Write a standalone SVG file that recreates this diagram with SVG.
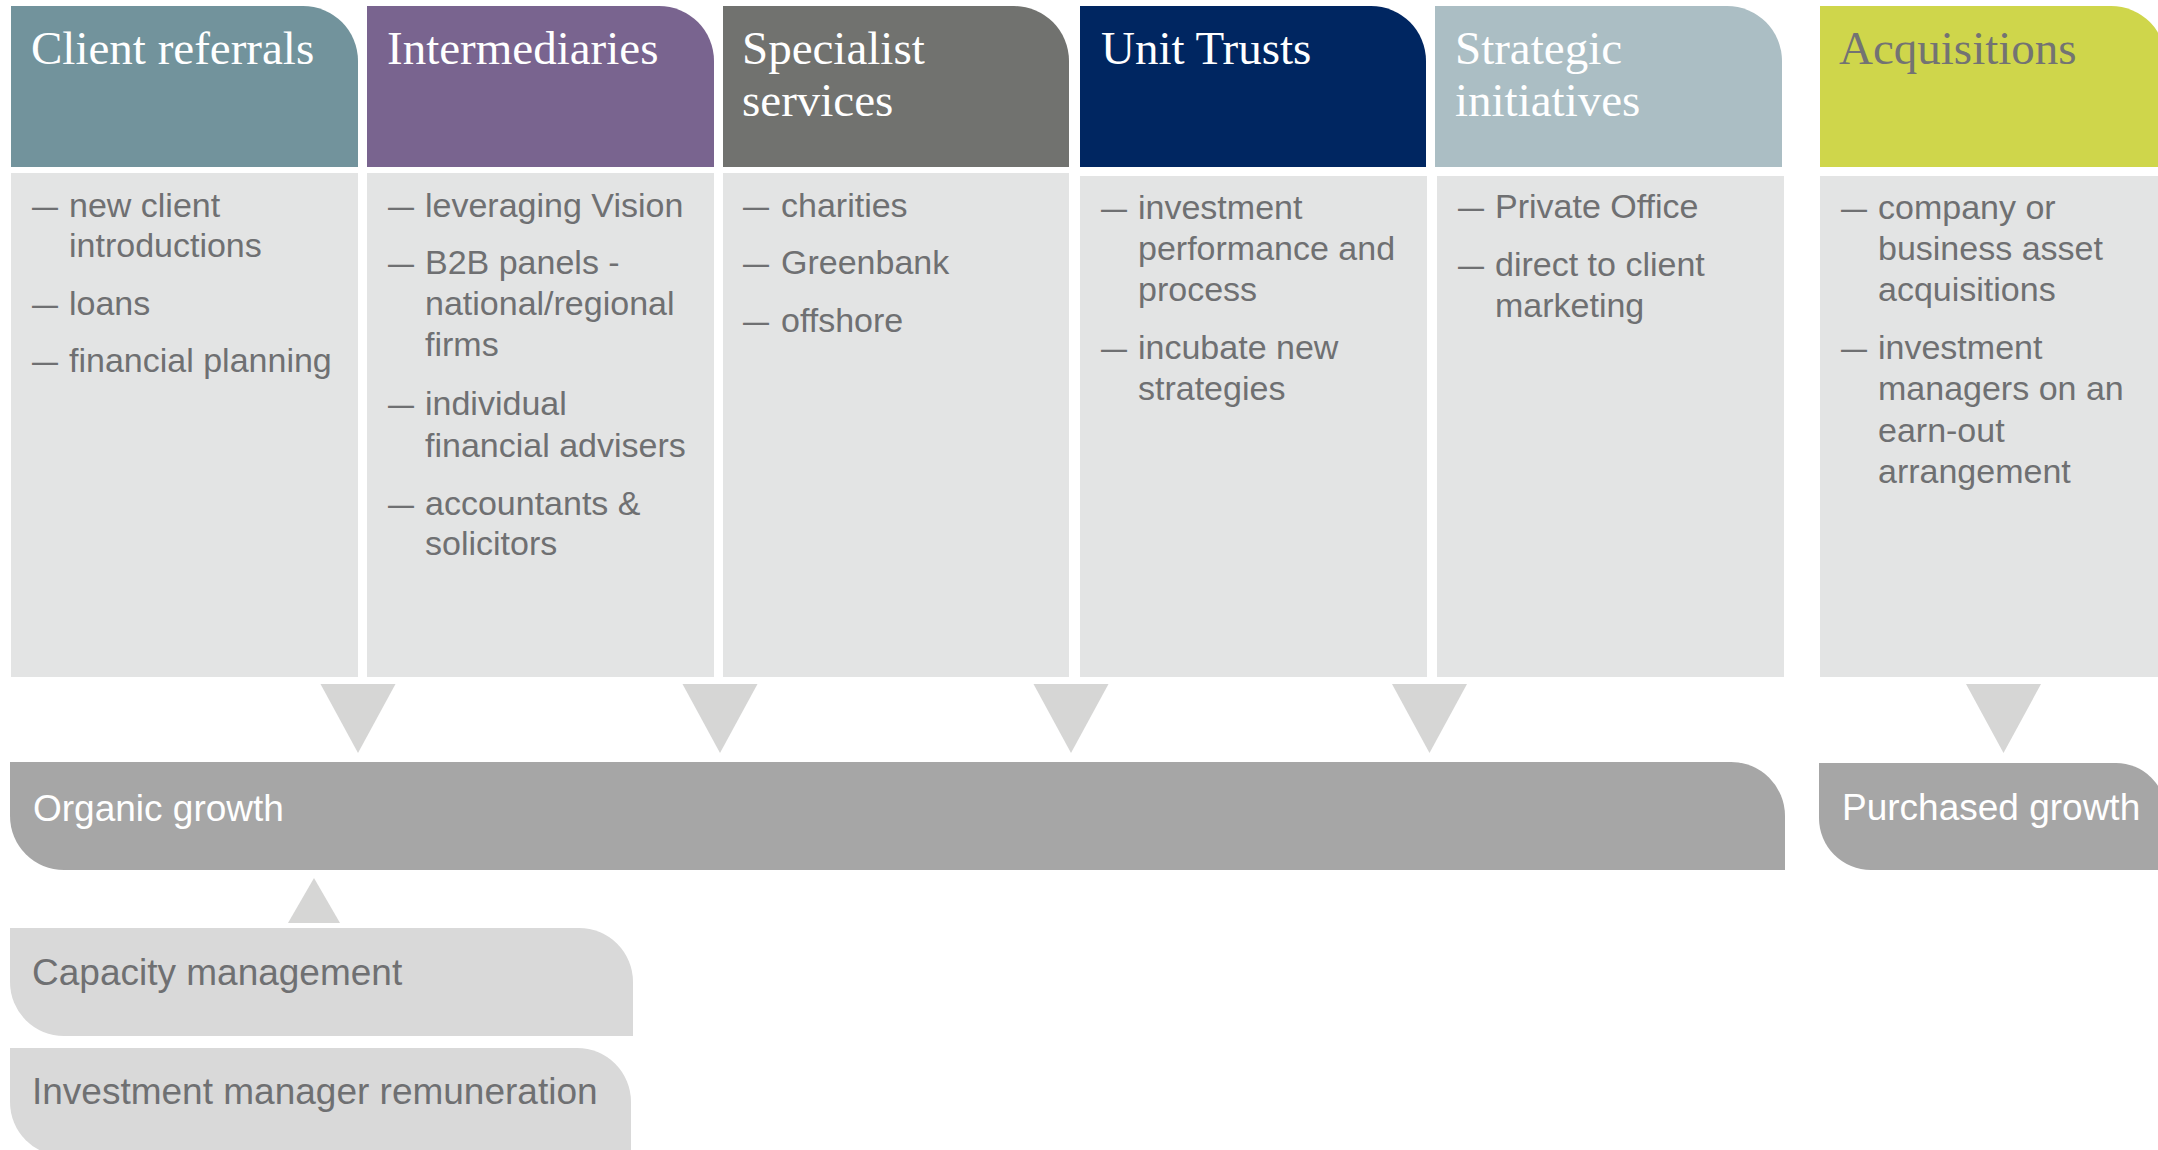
<svg xmlns="http://www.w3.org/2000/svg" width="2158" height="1150" viewBox="0 0 2158 1150">
<style>
.h{font-family:"Liberation Serif","Times New Roman",serif;font-size:47px;fill:#ffffff}
.b{font-family:"Liberation Sans",Arial,sans-serif;font-size:34px;fill:#6f7072}
.d{font-family:"Liberation Sans",Arial,sans-serif;font-size:34px;fill:#6f7072}
.panel{fill:#e3e4e4}
.tri{fill:#d6d6d5}
.bar{fill:#a6a6a6}
.bt{font-family:"Liberation Sans",Arial,sans-serif;font-size:37px;fill:#ffffff}
.lt{font-family:"Liberation Sans",Arial,sans-serif;font-size:37px;fill:#6f7072}
.lbox{fill:#d9d9d9}
</style>
<rect width="2158" height="1150" fill="#ffffff"/>

<g id="client-referrals">
<path d="M11,6 H303 A55 55 0 0 1 358,61 V167 H11 Z" fill="#72939c"/>
<rect class="panel" x="11" y="173" width="347" height="504"/>
<text class="h" x="31" y="64">Client referrals</text>
<text class="d" x="32" y="217" textLength="26" lengthAdjust="spacingAndGlyphs">—</text>
<text class="b" x="69" y="217">new client</text>
<text class="b" x="69" y="257">introductions</text>
<text class="d" x="32" y="315" textLength="26" lengthAdjust="spacingAndGlyphs">—</text>
<text class="b" x="69" y="315">loans</text>
<text class="d" x="32" y="372" textLength="26" lengthAdjust="spacingAndGlyphs">—</text>
<text class="b" x="69" y="372">financial planning</text>
</g>

<g id="intermediaries">
<path d="M367,6 H659 A55 55 0 0 1 714,61 V167 H367 Z" fill="#79648f"/>
<rect class="panel" x="367" y="173" width="347" height="504"/>
<text class="h" x="387" y="64">Intermediaries</text>
<text class="d" x="388" y="217" textLength="26" lengthAdjust="spacingAndGlyphs">—</text>
<text class="b" x="425" y="217">leveraging Vision</text>
<text class="d" x="388" y="274" textLength="26" lengthAdjust="spacingAndGlyphs">—</text>
<text class="b" x="425" y="274">B2B panels -</text>
<text class="b" x="425" y="315">national/regional</text>
<text class="b" x="425" y="356">firms</text>
<text class="d" x="388" y="415" textLength="26" lengthAdjust="spacingAndGlyphs">—</text>
<text class="b" x="425" y="415">individual</text>
<text class="b" x="425" y="457">financial advisers</text>
<text class="d" x="388" y="515" textLength="26" lengthAdjust="spacingAndGlyphs">—</text>
<text class="b" x="425" y="515">accountants &amp;</text>
<text class="b" x="425" y="555">solicitors</text>
</g>

<g id="specialist-services">
<path d="M723,6 H1014 A55 55 0 0 1 1069,61 V167 H723 Z" fill="#71726f"/>
<rect class="panel" x="723" y="173" width="346" height="504"/>
<text class="h" x="742" y="64">Specialist</text>
<text class="h" x="742" y="116">services</text>
<text class="d" x="743" y="217" textLength="26" lengthAdjust="spacingAndGlyphs">—</text>
<text class="b" x="781" y="217">charities</text>
<text class="d" x="743" y="274" textLength="26" lengthAdjust="spacingAndGlyphs">—</text>
<text class="b" x="781" y="274">Greenbank</text>
<text class="d" x="743" y="332" textLength="26" lengthAdjust="spacingAndGlyphs">—</text>
<text class="b" x="781" y="332">offshore</text>
</g>

<g id="unit-trusts">
<path d="M1080,6 H1371 A55 55 0 0 1 1426,61 V167 H1080 Z" fill="#002661"/>
<rect class="panel" x="1080" y="176" width="347" height="501"/>
<text class="h" x="1101" y="64">Unit Trusts</text>
<text class="d" x="1101" y="219" textLength="26" lengthAdjust="spacingAndGlyphs">—</text>
<text class="b" x="1138" y="219">investment</text>
<text class="b" x="1138" y="260">performance and</text>
<text class="b" x="1138" y="301">process</text>
<text class="d" x="1101" y="359" textLength="26" lengthAdjust="spacingAndGlyphs">—</text>
<text class="b" x="1138" y="359">incubate new</text>
<text class="b" x="1138" y="400">strategies</text>
</g>

<g id="strategic-initiatives">
<path d="M1435,6 H1727 A55 55 0 0 1 1782,61 V167 H1435 Z" fill="#abbec4"/>
<rect class="panel" x="1437" y="176" width="347" height="501"/>
<text class="h" x="1455" y="64">Strategic</text>
<text class="h" x="1455" y="116">initiatives</text>
<text class="d" x="1458" y="218" textLength="26" lengthAdjust="spacingAndGlyphs">—</text>
<text class="b" x="1495" y="218">Private Office</text>
<text class="d" x="1458" y="276" textLength="26" lengthAdjust="spacingAndGlyphs">—</text>
<text class="b" x="1495" y="276">direct to client</text>
<text class="b" x="1495" y="317">marketing</text>
</g>

<g id="acquisitions">
<path d="M1820,6 H2111 A55 55 0 0 1 2166,61 V167 H1820 Z" fill="#cfd64b"/>
<rect class="panel" x="1820" y="176" width="346" height="501"/>
<text class="h" x="1839" y="64" style="fill:#737373">Acquisitions</text>
<text class="d" x="1841" y="219" textLength="26" lengthAdjust="spacingAndGlyphs">—</text>
<text class="b" x="1878" y="219">company or</text>
<text class="b" x="1878" y="260">business asset</text>
<text class="b" x="1878" y="301">acquisitions</text>
<text class="d" x="1841" y="359" textLength="26" lengthAdjust="spacingAndGlyphs">—</text>
<text class="b" x="1878" y="359">investment</text>
<text class="b" x="1878" y="400">managers on an</text>
<text class="b" x="1878" y="442">earn-out</text>
<text class="b" x="1878" y="483">arrangement</text>
</g>

<g id="connectors">
<polygon class="tri" points="320.5,684 395.5,684 358,753"/>
<polygon class="tri" points="682.5,684 757.5,684 720,753"/>
<polygon class="tri" points="1033.5,684 1108.5,684 1071,753"/>
<polygon class="tri" points="1392,684 1467,684 1429.5,753"/>
<polygon class="tri" points="1966,684 2041,684 2003.5,753"/>
<polygon class="tri" points="288,923 340,923 314,878"/>
</g>

<g id="organic-growth">
<path class="bar" d="M10,762 H1731 A54 54 0 0 1 1785,816 V870 H64 A54 54 0 0 1 10,816 Z"/>
<text class="bt" x="33" y="821">Organic growth</text>
</g>

<g id="purchased-growth">
<path class="bar" d="M1819,763 H2116 A50 50 0 0 1 2166,813 V870 H1871 A52 52 0 0 1 1819,818 Z"/>
<text class="bt" x="1842" y="820">Purchased growth</text>
</g>

<g id="capacity-management">
<path class="lbox" d="M10,928 H579 A54 54 0 0 1 633,982 V1036 H64 A54 54 0 0 1 10,982 Z"/>
<text class="lt" x="32" y="985">Capacity management</text>
</g>

<g id="investment-manager-remuneration">
<path class="lbox" d="M10,1048 H577 A54 54 0 0 1 631,1102 V1156 H64 A54 54 0 0 1 10,1102 Z"/>
<text class="lt" x="32" y="1104">Investment manager remuneration</text>
</g>
</svg>
